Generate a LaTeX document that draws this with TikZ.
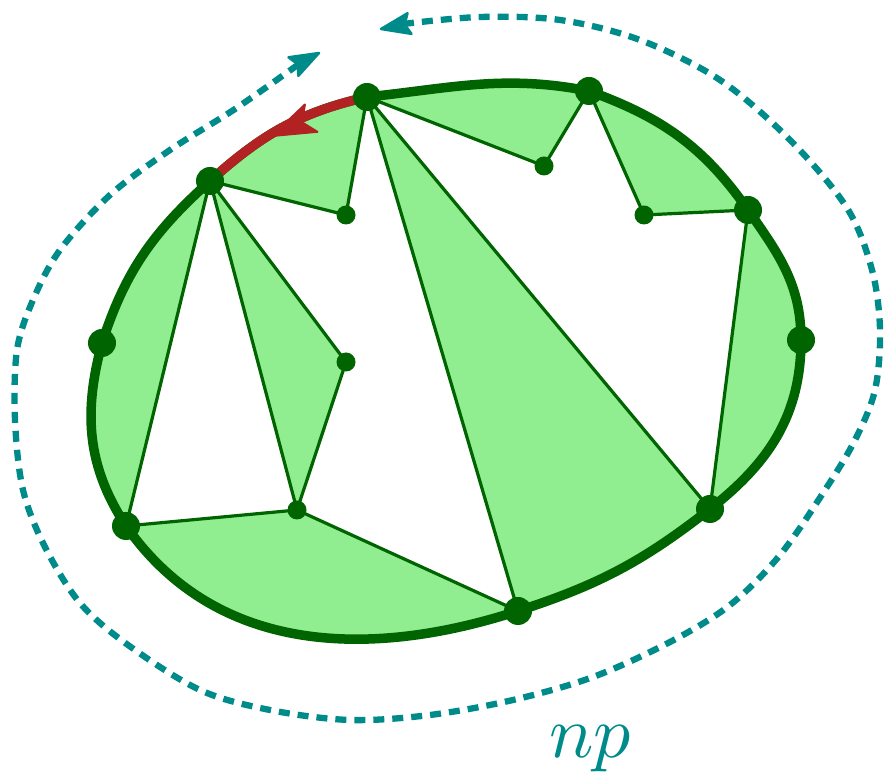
\documentclass[tikz,border=0pt]{standalone}
\usetikzlibrary{arrows.meta}
\definecolor{dgreen}{RGB}{0,100,0}
\definecolor{lgreen}{RGB}{144,238,144}
\definecolor{fred}{RGB}{178,34,34}
\definecolor{tealc}{RGB}{0,139,139}
\begin{document}
\begin{tikzpicture}[x=1pt,y=1pt,
  bigdot/.style={circle,fill=dgreen,inner sep=0pt,minimum size=28pt},
  smalldot/.style={circle,fill=dgreen,inner sep=0pt,minimum size=19pt},
  chord/.style={draw=dgreen,line width=3.2pt},
  rim/.style={draw=dgreen,line width=9.5pt,line join=round},
  redarc/.style={draw=fred,line width=9.5pt},
  redhead/.style={fill=fred,draw=fred,line width=2pt,line join=round},
  loopline/.style={draw=tealc,line width=6.3pt,dash pattern=on 11pt off 8pt},
  tealhead/.style={fill=tealc,draw=tealc,line width=2.5pt,line join=round},
  lbl/.style={text=tealc,scale=7.4}
]
\useasboundingbox (0,0) rectangle (885,775);

\coordinate (A) at (367,678);
\coordinate (B) at (589,684);
\coordinate (C) at (748,565);
\coordinate (D) at (801,435);
\coordinate (E) at (710,266);
\coordinate (F) at (518,164);
\coordinate (G) at (126,249);
\coordinate (H) at (102,432);
\coordinate (I) at (210,594);
\coordinate (a) at (346,560);
\coordinate (b) at (544,609);
\coordinate (c) at (644,560);
\coordinate (d) at (346,413);
\coordinate (e) at (297,265);

\def\rimpath{(A) to[out=6,in=169] (B) to[out=-20,in=125] (C) to[out=-55,in=90] (D)
  to[out=-90,in=38] (E) to[out=-142,in=18] (F) to[out=198,in=-55] (G)
  to[out=123,in=-105] (H) to[out=72,in=-138] (I) to[out=42,in=193] (A)}

% light green interior
\fill[lgreen] \rimpath -- cycle;
% white polygons
\fill[white] (I) -- (e) -- (G) -- cycle;
\fill[white] (I) -- (a) -- (A) -- (F) -- (e) -- (d) -- cycle;
\fill[white] (A) -- (b) -- (B) -- (c) -- (C) -- (E) -- cycle;

% chords
\draw[chord] (I) -- (a) -- (A);
\draw[chord] (I) -- (d) -- (e);
\draw[chord] (I) -- (e);
\draw[chord] (I) -- (G) -- (e) -- (F);
\draw[chord] (A) -- (F);
\draw[chord] (A) -- (E);
\draw[chord] (A) -- (b) -- (B) -- (c) -- (C) -- (E);

% rim
\draw[rim] \rimpath -- cycle;

% red arc with its arrowhead
\draw[redarc] (A) to[out=193,in=42] (I);
\path[redhead,shift={(272,639)},rotate=204.5]
  (0,0) -- (-43,15) -- (-33,0) -- (-43,-15) -- cycle;

% dots
\foreach \p in {A,B,C,D,E,F,G,H,I}
  \node[bigdot] (n\p) at (\p) {};
\foreach \p in {a,b,c,d,e}
  \node[smalldot] (m\p) at (\p) {};

% dashed loop
\draw[loopline] plot[smooth,tension=0.55] coordinates {
 (403,751) (480,758) (560,755) (640,735) (720,695) (790,635) (847,567)
 (872,505) (880,445) (875,385) (855,335) (825,285) (780,220) (730,170)
 (670,133) (593,98) (513,75) (430,60) (350,55) (270,65) (200,85)
 (128,130) (80,172) (45,228) (23,285) (15,355) (17,425) (33,475)
 (60,525) (110,580) (170,625) (235,666) (299,711)};
\path[tealhead,shift={(381,746)},rotate=190.8]
  (0,0) -- (-29,10.5) -- (-24,0) -- (-29,-10.5) -- cycle;
\path[tealhead,shift={(319,722)},rotate=28]
  (0,0) -- (-29,10.5) -- (-24,0) -- (-29,-10.5) -- cycle;

\node[lbl,anchor=base] (np) at (590,18) {$np$};
\end{tikzpicture}
\end{document}
